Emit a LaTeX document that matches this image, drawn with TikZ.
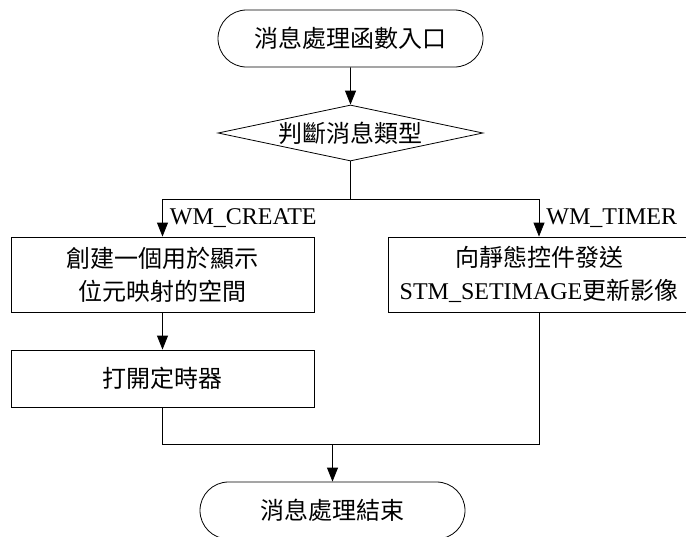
\documentclass[tikz,border=0pt]{standalone}
\usepackage{fontspec}
\setmainfont{Liberation Serif}
\newfontfamily\cjk{Noto Sans CJK TC}
\usetikzlibrary{shapes.geometric,shapes.misc,arrows.meta}

\tikzset{
	term/.style={rounded rectangle, draw, minimum width=265pt, minimum height=57pt, inner sep=0pt, font=\cjk\fontsize{24}{33}\selectfont},
	decision/.style={diamond, draw, aspect=4.7, inner sep=0pt, minimum width=265pt, minimum height=56pt, font=\cjk\fontsize{24}{33}\selectfont},
	procbox/.style={rectangle, draw, minimum height=75pt, inner sep=0pt, align=center, font=\cjk\fontsize{24}{33}\selectfont},
	msglbl/.style={inner sep=7pt, font=\fontsize{24}{28}\selectfont},
	arrow/.style={-{Triangle[length=14pt,width=11pt]}}
}

\begin{document}
\begin{tikzpicture}[x=1pt,y=-1pt,line width=0.8pt]
		\useasboundingbox (0,0) rectangle (686,536);
		
		\node[term] (start) at (350.5,38.5) {消息處理函數入口};
		\node[decision] (decide) at (350.5,133) {判斷消息類型};
		\node[procbox, minimum width=303pt] (create) at (162.5,274.5) {創建一個用於顯示\\位元映射的空間};
		\node[procbox, minimum width=302pt] (timer) at (539,274.5) {向靜態控件發送\\{\rmfamily STM\_SETIMAGE}更新影像};
		\node[procbox, minimum width=303pt, minimum height=57pt] (settimer) at (162.5,378.5) {打開定時器};
		\node[term] (stop) at (332.5,510.5) {消息處理結束};
		
		\coordinate (forkL) at (162.5,199);
		\coordinate (forkR) at (539,199);
		\coordinate (joinL) at (162.5,444);
		\coordinate (joinR) at (539,444);
		
		\draw[arrow] (start) -- (decide);
		\draw (decide.south) -- (decide.south |- forkL);
		\draw (forkL) -- (forkR);
		\draw[arrow] (forkL) -- node[msglbl, right] (lblcreate) {WM\_CREATE} (create.north);
		\draw[arrow] (forkR) -- node[msglbl, right] (lbltimer) {WM\_TIMER} (timer.north);
		\draw[arrow] (create) -- (settimer);
		\draw (settimer.south) -- (joinL) -- (joinR) -- (timer.south);
		\draw[arrow] (stop.north |- joinL) -- (stop.north);
	\end{tikzpicture}
\end{document}
